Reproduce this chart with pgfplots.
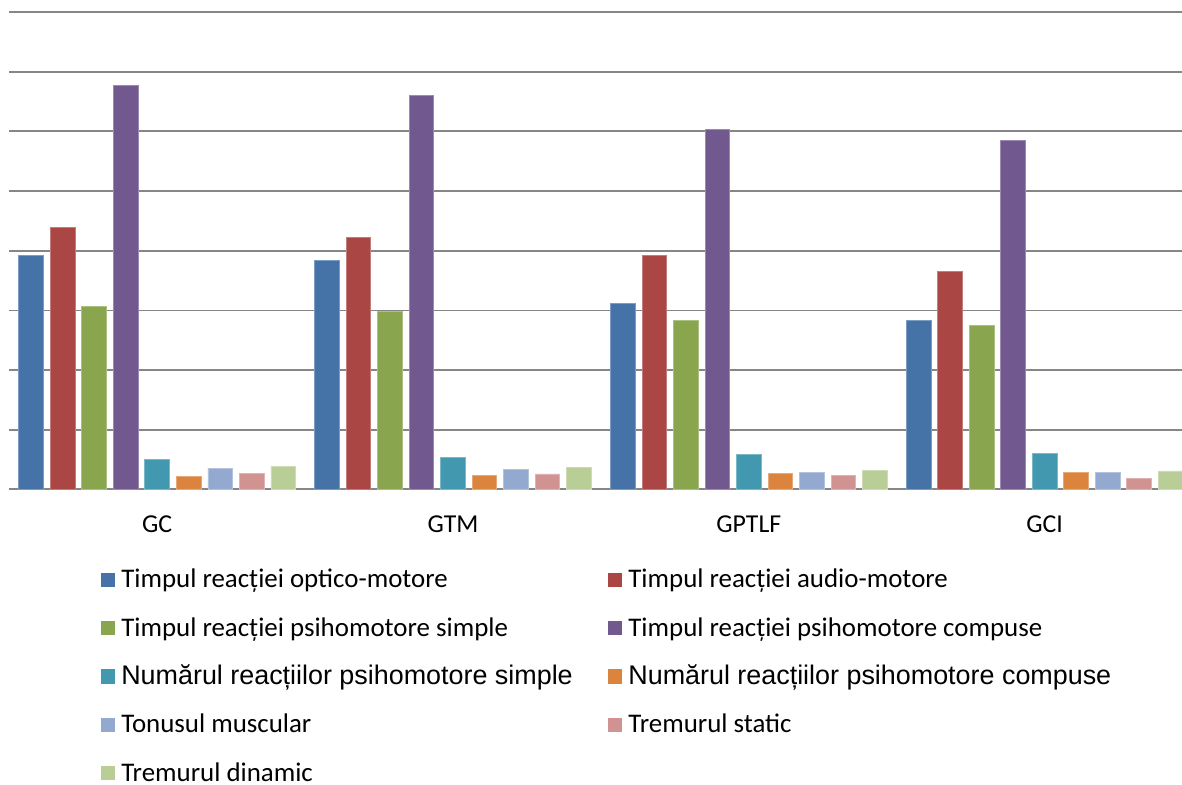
\documentclass[border=0pt]{standalone}
\usepackage{pgfplots}
\usepackage{pgfplotstable}
\pgfplotsset{compat=1.18}
\usepackage{fontspec}
\setmainfont{Carlito}
\newfontfamily\arialf{Liberation Sans}
\definecolor{c1}{RGB}{69,114,167}
\definecolor{c2}{RGB}{170,70,67}
\definecolor{c3}{RGB}{137,165,78}
\definecolor{c4}{RGB}{113,88,143}
\definecolor{c5}{RGB}{65,152,175}
\definecolor{c6}{RGB}{219,132,61}
\definecolor{c7}{RGB}{147,169,207}
\definecolor{c8}{RGB}{209,147,146}
\definecolor{c9}{RGB}{185,205,150}
\definecolor{gridc}{RGB}{134,134,134}
\pgfplotstableread{
x s1 s2 s3 s4 s5 s6 s7 s8 s9
0 3.92 4.39 3.06 6.77 0.51 0.22 0.36 0.27 0.39
1 3.83 4.22 2.99 6.60 0.54 0.24 0.34 0.26 0.37
2 3.11 3.92 2.83 6.03 0.59 0.27 0.29 0.23 0.32
3 2.83 3.65 2.75 5.85 0.60 0.28 0.29 0.18 0.31
}\datatable
\begin{document}
\begin{tikzpicture}
\useasboundingbox (0,0) rectangle (591pt,392.5pt);
\begin{axis}[
 at={(4.65pt,147.75pt)}, anchor=south west,
 scale only axis, width=591.6pt, height=238.75pt,
 xmin=-0.5, xmax=3.5, ymin=0, ymax=8,
 ybar=3.45pt, bar width=12.3pt,
 axis x line*=bottom, axis y line*=left,
 x axis line style={gridc, line width=1pt},
 y axis line style={draw=none},
 ytick={0,...,8}, yticklabels={}, ymajorgrids,
 grid style={gridc, line width=0.9pt},
 xtick={0,1,2,3}, xticklabels={GC,GTM,GPTLF,GCI},
 major tick length=0pt,
 xticklabel style={anchor=base, yshift=-21.4pt, font=\fontsize{12.9}{15}\selectfont},
 legend columns=2, legend cell align=left,
 legend image code/.code={\fill[#1, draw=none] (0pt,-4.6pt) rectangle (7.2pt,2.6pt);},
 legend style={draw=none, fill=none, inner sep=0pt, outer sep=0pt,
   at={(0.07725,-0.1644)}, anchor=north west,
   font=\fontsize{13.45}{16}\selectfont,
   nodes={inner sep=0pt, text height=10pt, text depth=0pt},
   row sep=14.15pt,
   /tikz/every odd column/.append style={column sep=3.1pt},
   /tikz/every even column/.append style={column sep=17.5pt}},
]
\addplot[fill=c1, draw=c1!70!white, line width=0.4pt] table[x=x,y=s1]{\datatable};
\addlegendentry{Timpul reacției optico-motore}
\addplot[fill=c2, draw=c2!70!white, line width=0.4pt] table[x=x,y=s2]{\datatable};
\addlegendentry{Timpul reacției audio-motore}
\addplot[fill=c3, draw=c3!70!white, line width=0.4pt] table[x=x,y=s3]{\datatable};
\addlegendentry{Timpul reacției psihomotore simple}
\addplot[fill=c4, draw=c4!70!white, line width=0.4pt] table[x=x,y=s4]{\datatable};
\addlegendentry{Timpul reacției psihomotore compuse}
\addplot[fill=c5, draw=c5!70!white, line width=0.4pt] table[x=x,y=s5]{\datatable};
\addlegendentry{\arialf Numărul reacțiilor psihomotore simple}
\addplot[fill=c6, draw=c6!70!white, line width=0.4pt] table[x=x,y=s6]{\datatable};
\addlegendentry{\arialf Numărul reacțiilor psihomotore compuse}
\addplot[fill=c7, draw=c7!70!white, line width=0.4pt] table[x=x,y=s7]{\datatable};
\addlegendentry{Tonusul muscular}
\addplot[fill=c8, draw=c8!70!white, line width=0.4pt] table[x=x,y=s8]{\datatable};
\addlegendentry{Tremurul static}
\addplot[fill=c9, draw=c9!70!white, line width=0.4pt] table[x=x,y=s9]{\datatable};
\addlegendentry{Tremurul dinamic}
\end{axis}
\end{tikzpicture}
\end{document}
